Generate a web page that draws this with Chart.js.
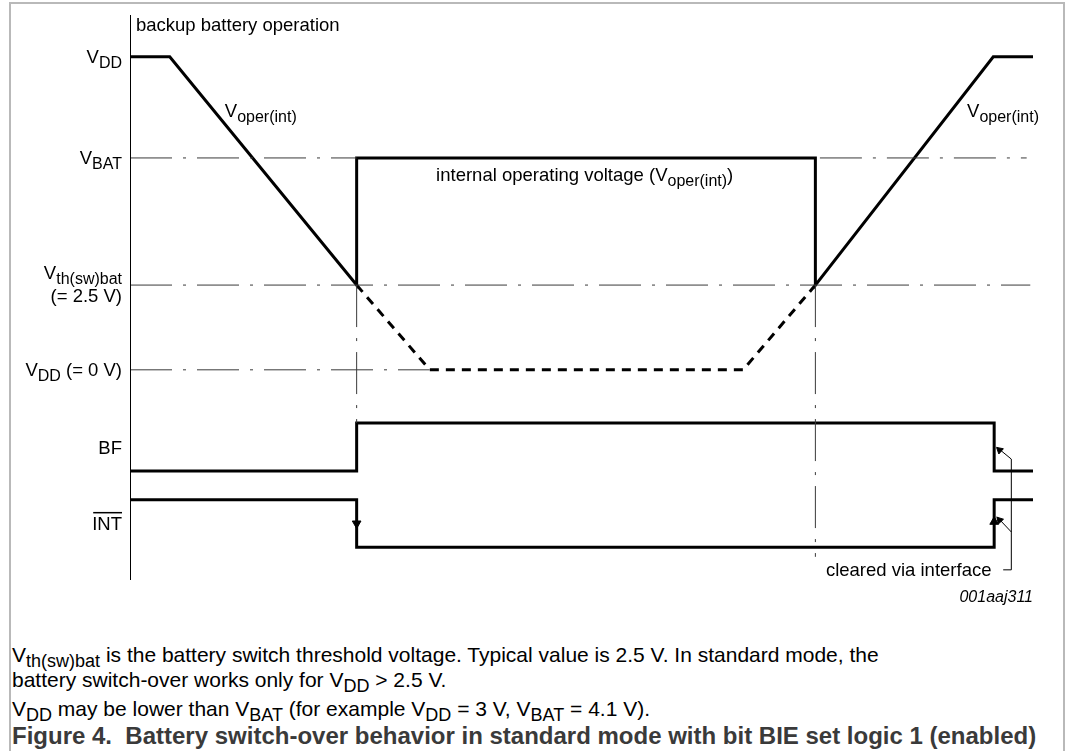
<!DOCTYPE html>
<html>
<head>
<meta charset="utf-8">
<script src="https://cdn.jsdelivr.net/npm/chart.js@4.4.1/dist/chart.umd.min.js"></script>
<style>
    body { margin: 0; background: #fff; }
    #wrap { position: relative; width: 1066px; height: 751px; overflow: hidden; font-family: "Liberation Sans", Arial, sans-serif; }
    #frame { position: absolute; left: 9px; top: 2px; width: 1056px; height: 800px; border: 2px solid #b9b9b9; box-sizing: border-box; }
    #diagram { position: absolute; left: 0; top: 0; }
    .note { position: absolute; left: 12px; font-size: 21px; line-height: 1; color: #000; white-space: nowrap; }
    .note sub { font-size: 18px; vertical-align: -5px; line-height: 0; }
    .title { font-weight: bold; color: #3a3a3a; font-size: 24px; }
</style>
</head>
<body>
<div id="wrap">
    <div id="frame"></div>
    <canvas id="diagram" width="1066" height="610"></canvas>
    <div class="note" style="top:644px">V<sub>th(sw)bat</sub> is the battery switch threshold voltage. Typical value is 2.5 V. In standard mode, the</div>
    <div class="note" style="top:669px">battery switch-over works only for V<sub>DD</sub> &gt; 2.5 V.</div>
    <div class="note" style="top:698px">V<sub>DD</sub> may be lower than V<sub>BAT</sub> (for example V<sub>DD</sub> = 3 V, V<sub>BAT</sub> = 4.1 V).</div>
    <div class="note title" style="top:724px">Figure 4.&nbsp; Battery switch-over behavior in standard mode with bit BIE set logic 1 (enabled)</div>
</div>
<script>
// time axis runs 0..100 across the plot, level axis 0..100 from bottom to top
const levelVdd = 92.6;
const levelVbat = 74.7;
const levelVth = 52.2;
const levelZero = 37.2;

// internal operating voltage (solid)
const operTimes = [0, 4.4, 25.1, 25.1, 75.9, 75.9, 95.6, 100];
const operLevels = [levelVdd, levelVdd, levelVth, levelVbat, levelVbat, levelVth, levelVdd, levelVdd];

// V_DD continuing below the threshold (dashed)
const vddTimes = [25.1, 33.2, 67.9, 75.9];
const vddLevels = [levelVth, levelZero, levelZero, levelVth];

// BF flag
const bfTimes = [0, 25.1, 25.1, 95.7, 95.7, 100];
const bfLevels = [19.3, 19.3, 27.8, 27.8, 19.3, 19.3];

// INT output (active low)
const intTimes = [0, 25.1, 25.1, 95.7, 95.7, 100];
const intLevels = [14.2, 14.2, 5.8, 5.8, 14.2, 14.2];

// level names on the left
const levelLabels = ['V_DD', 'V_BAT', 'V_th(sw)bat', 'V_DD (= 0 V)', 'BF', 'INT'];
const levelLabelPos = [levelVdd, levelVbat, levelVth, levelZero, 23.4, 10.1];

// "cleared via interface" leader
const leaderTimes = [96.7, 97.6, 97.6];
const leaderLevels = [1.8, 1.8, 21.4];
const arrowFrom = [[97.6, 21.4], [97.6, 8.5]];
const arrowTo = [[96.0, 23.5], [96.0, 11.2]];

function pts(xs, ys) {
    return xs.map((x, i) => ({ x: x, y: ys[i] }));
}

function solid(data, width) {
    return {
        data: data,
        showLine: true,
        borderColor: '#000',
        borderWidth: width,
        pointRadius: 0,
        borderJoinStyle: 'miter',
        borderCapStyle: 'butt',
        tension: 0,
        fill: false
    };
}

function dashDot(data) {
    const ds = solid(data, 1);
    ds.borderColor = '#3a3a3a';
    ds.borderDash = [42, 11, 3, 11];
    return ds;
}

function arrowHead(x, y, rot, r) {
    return {
        data: [{ x: x, y: y }],
        showLine: false,
        pointStyle: 'triangle',
        pointRadius: r,
        pointRotation: rot,
        backgroundColor: '#000',
        borderColor: '#000',
        borderWidth: 1
    };
}

const datasets = [];
// axis
datasets.push(solid(pts([0, 0], [0, 100]), 2));
// reference lines
datasets.push(dashDot(pts([0, 25.1], [levelVbat, levelVbat])));
datasets.push(dashDot(pts([76.4, 99.3], [levelVbat, levelVbat])));
datasets.push(dashDot(pts([0, 99.7], [levelVth, levelVth])));
datasets.push(dashDot(pts([0, 33.2], [levelZero, levelZero])));
datasets.push(dashDot(pts([25.1, 25.1], [levelVth, 27.8])));
datasets.push(dashDot(pts([75.9, 75.9], [levelVth, 4.1])));
// signals
datasets.push(solid(pts(operTimes, operLevels), 3));
const vddDs = solid(pts(vddTimes, vddLevels), 3);
vddDs.borderDash = [9, 7];
datasets.push(vddDs);
datasets.push(solid(pts(bfTimes, bfLevels), 3));
datasets.push(solid(pts(intTimes, intLevels), 3));
// INT edge arrows
datasets.push(arrowHead(25.1, 10.0, 180, 5));
datasets.push(arrowHead(95.7, 10.3, 0, 5));
// leader line and arrows
datasets.push(solid(pts(leaderTimes, leaderLevels), 1));
arrowFrom.forEach((f, i) => {
    datasets.push(solid(pts([f[0], arrowTo[i][0]], [f[1], arrowTo[i][1]]), 1));
});
datasets.push(arrowHead(96.3, 23.0, -49, 4));
datasets.push(arrowHead(96.3, 10.6, -43, 4));

const FONT = '"Liberation Sans", Arial, sans-serif';

// draws text like "V_DD" with the part after _ as subscript
function drawRich(ctx, text, x, y, align, size) {
    const parts = [];
    const m = text.match(/^([^_]*)_(\S+)(.*)$/);
    if (m) {
        parts.push({ t: m[1], sub: false });
        parts.push({ t: m[2], sub: true });
        if (m[3]) parts.push({ t: m[3], sub: false });
    } else {
        parts.push({ t: text, sub: false });
    }
    const subSize = Math.round(size * 0.85);
    let total = 0;
    parts.forEach(p => {
        ctx.font = (p.sub ? subSize : size) + 'px ' + FONT;
        p.w = ctx.measureText(p.t).width;
        total += p.w;
    });
    let cx = align === 'right' ? x - total : (align === 'center' ? x - total / 2 : x);
    const start = cx;
    ctx.textAlign = 'left';
    ctx.textBaseline = 'alphabetic';
    parts.forEach(p => {
        ctx.font = (p.sub ? subSize : size) + 'px ' + FONT;
        ctx.fillText(p.t, cx, p.sub ? y + 5 : y);
        cx += p.w;
    });
    return { left: start, right: cx };
}

const labelPlugin = {
    id: 'labels',
    afterDatasetsDraw(chart) {
        const ctx = chart.ctx;
        const xs = chart.scales.x, ys = chart.scales.y;
        const axisX = xs.getPixelForValue(0) - 8;
        ctx.save();
        ctx.fillStyle = '#000';
        const size = 18.5;

        levelLabels.forEach((lab, i) => {
            const py = ys.getPixelForValue(levelLabelPos[i]);
            if (lab === 'V_th(sw)bat') {
                drawRich(ctx, lab, axisX, py - 6, 'right', size);
                drawRich(ctx, '(= 2.5 V)', axisX, py + 17, 'right', size);
            } else if (lab === 'INT') {
                const r = drawRich(ctx, lab, axisX, py + 7, 'right', size);
                ctx.fillRect(r.left + 1, py - 11, r.right - r.left - 1, 1.5);
            } else {
                drawRich(ctx, lab, axisX, py + 6, 'right', size);
            }
        });

        drawRich(ctx, 'backup battery operation', xs.getPixelForValue(0) + 6, ys.getPixelForValue(100) + 16, 'left', size);
        drawRich(ctx, 'V_oper(int)', xs.getPixelForValue(10.5), ys.getPixelForValue(82.0), 'left', size);
        drawRich(ctx, 'V_oper(int)', xs.getPixelForValue(92.7), ys.getPixelForValue(82.0), 'left', size);

        // internal operating voltage (V_oper(int))
        const ix = xs.getPixelForValue(33.9), iy = ys.getPixelForValue(70.6);
        const r = drawRich(ctx, 'internal operating voltage (V_oper(int)', ix, iy, 'left', size);
        ctx.font = size + 'px ' + FONT;
        ctx.fillText(')', r.right, iy);

        ctx.font = '18.5px ' + FONT;
        ctx.textAlign = 'right';
        ctx.fillText('cleared via interface', xs.getPixelForValue(95.4), ys.getPixelForValue(1.8) + 6);
        ctx.font = 'italic 16px ' + FONT;
        ctx.fillText('001aaj311', xs.getPixelForValue(100), ys.getPixelForValue(-3) + 5);
        ctx.restore();
    }
};

new Chart(document.getElementById('diagram').getContext('2d'), {
    type: 'scatter',
    data: { datasets: datasets },
    options: {
        responsive: false,
        devicePixelRatio: 1,
        animation: false,
        layout: { padding: { left: 130, right: 33, top: 15, bottom: 30 } },
        plugins: { legend: { display: false }, tooltip: { enabled: false } },
        scales: {
            x: { type: 'linear', min: 0, max: 100, display: false },
            y: { type: 'linear', min: 0, max: 100, display: false }
        }
    },
    plugins: [labelPlugin]
});
</script>
</body>
</html>
